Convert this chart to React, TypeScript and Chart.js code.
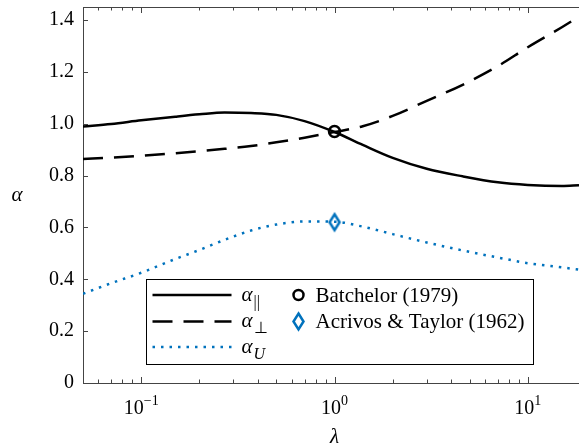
import React, { useEffect, useRef } from 'react';
import { Chart, registerables } from 'chart.js';

Chart.register(...registerables);

// ---------- data ----------
const lambdaValues = [0.05, 0.07, 0.1, 0.15, 0.2, 0.27, 0.37, 0.5, 0.7, 1, 1.4, 2, 3, 4.6, 7, 10, 15, 18.4];
const alphaParallel = [0.989, 0.999, 1.013, 1.027, 1.036, 1.043, 1.041, 1.034, 1.01, 0.968, 0.918, 0.868, 0.826, 0.797, 0.774, 0.764, 0.76, 0.763];
const alphaPerp = [0.864, 0.869, 0.876, 0.886, 0.894, 0.903, 0.914, 0.928, 0.946, 0.968, 0.99, 1.03, 1.088, 1.15, 1.222, 1.295, 1.372, 1.413];
const alphaU = [0.344, 0.385, 0.425, 0.478, 0.513, 0.552, 0.588, 0.611, 0.623, 0.622, 0.603, 0.574, 0.542, 0.511, 0.484, 0.462, 0.446, 0.437];
const batchelorX = [1];
const batchelorY = [0.97];
const acrivosX = [1];
const acrivosY = [0.62];
const xMin = 0.05;
const xMax = 18.4;
const xTickValues = [0.1, 1, 10];
const xTickBase = ['10', '10', '10'];
const xTickExp = ['\u22121', '0', '1'];
const yTickValues = [0, 0.2, 0.4, 0.6, 0.8, 1.0, 1.2, 1.4];
const yTickLabels = ['0', '0.2', '0.4', '0.6', '0.8', '1.0', '1.2', '1.4'];

// ---------- styles ----------
const AXIS_COLOR = '#444444';
const BLUE = '#0072BD';
const SERIF = '"Liberation Serif", "Times New Roman", serif';
const DASH = [20, 11];
const DOT = [2.5, 6];

function makeDiamond(): HTMLCanvasElement {
  const c = document.createElement('canvas');
  c.width = 16;
  c.height = 22;
  const g = c.getContext('2d')!;
  g.strokeStyle = BLUE;
  g.lineWidth = 2.5;
  g.lineJoin = 'miter';
  g.beginPath();
  g.moveTo(8, 3);
  g.lineTo(13, 11);
  g.lineTo(8, 19);
  g.lineTo(3, 11);
  g.closePath();
  g.stroke();
  return c;
}

const framePlugin = {
  id: 'frame',
  afterDatasetsDraw(chart: any) {
    const { ctx, chartArea: a, scales } = chart;
    const x = scales.x;
    const y = scales.y;
    ctx.save();
    ctx.strokeStyle = AXIS_COLOR;
    ctx.lineWidth = 1;
    ctx.beginPath();
    ctx.moveTo(a.left, a.top + 0.5);
    ctx.lineTo(a.right, a.top + 0.5);
    ctx.stroke();
    ctx.beginPath();
    for (let e = -2; e <= 1; e++) {
      for (let m = 1; m <= 9; m++) {
        const v = m * Math.pow(10, e);
        if (v < x.min || v > x.max) continue;
        const px = Math.round(x.getPixelForValue(v)) + 0.5;
        const len = m === 1 ? 6 : 3.5;
        ctx.moveTo(px, a.bottom);
        ctx.lineTo(px, a.bottom - len);
        ctx.moveTo(px, a.top);
        ctx.lineTo(px, a.top + len);
      }
    }
    yTickValues.forEach((v) => {
      const py = Math.round(y.getPixelForValue(v)) + 0.5;
      ctx.moveTo(a.left, py);
      ctx.lineTo(a.left + 5, py);
    });
    ctx.stroke();
    ctx.restore();
  },
  afterDraw(chart: any) {
    const { ctx, chartArea: a, scales } = chart;
    const x = scales.x;
    ctx.save();
    ctx.fillStyle = '#000';

    // x tick labels: 10 with superscript exponent
    ctx.textBaseline = 'alphabetic';
    ctx.textAlign = 'left';
    xTickValues.forEach((v, i) => {
      ctx.font = `20px ${SERIF}`;
      const wb = ctx.measureText(xTickBase[i]).width;
      ctx.font = `14px ${SERIF}`;
      const we = ctx.measureText(xTickExp[i]).width;
      const cx = x.getPixelForValue(v);
      const x0 = cx - (wb + we) / 2;
      ctx.font = `20px ${SERIF}`;
      ctx.fillText(xTickBase[i], x0, a.bottom + 31);
      ctx.font = `14px ${SERIF}`;
      ctx.fillText(xTickExp[i], x0 + wb, a.bottom + 22);
    });

    // axis titles
    ctx.textAlign = 'center';
    ctx.textBaseline = 'middle';
    ctx.font = `italic 21px ${SERIF}`;
    ctx.fillText('\u03B1', 17, (a.top + a.bottom) / 2);
    ctx.fillText('\u03BB', x.getPixelForValue(1), 437);

    // legend box
    const bx = a.left + 63;
    const by = a.top + 272;
    const bw = 387;
    const bh = 85;
    ctx.fillStyle = '#fff';
    ctx.fillRect(bx, by, bw, bh);
    ctx.strokeStyle = '#000';
    ctx.lineWidth = 1;
    ctx.strokeRect(Math.round(bx) + 0.5, Math.round(by) + 0.5, bw, bh);

    const rows = [by + 16, by + 42.5, by + 68];
    const lx0 = bx + 6.5;
    const lx1 = bx + 85.5;
    const samples: { dash: number[]; color: string }[] = [
      { dash: [], color: '#000' },
      { dash: DASH, color: '#000' },
      { dash: DOT, color: BLUE },
    ];
    samples.forEach((s, i) => {
      ctx.beginPath();
      ctx.setLineDash(s.dash);
      ctx.strokeStyle = s.color;
      ctx.lineWidth = 2.5;
      ctx.lineCap = 'butt';
      ctx.moveTo(lx0, rows[i]);
      ctx.lineTo(lx1, rows[i]);
      ctx.stroke();
    });
    ctx.setLineDash([]);

    // alpha labels with subscripts
    const subs: { t: string; italic: boolean }[] = [
      { t: '||', italic: false },
      { t: '\u22A5', italic: false },
      { t: 'U', italic: true },
    ];
    ctx.textAlign = 'left';
    ctx.textBaseline = 'alphabetic';
    ctx.fillStyle = '#000';
    subs.forEach((s, i) => {
      const base = rows[i] + 5.5;
      const ax = bx + 95.5;
      ctx.font = `italic 21px ${SERIF}`;
      ctx.fillText('\u03B1', ax, base);
      const w = ctx.measureText('\u03B1').width;
      ctx.font = `${s.italic ? 'italic ' : ''}16px ${SERIF}`;
      ctx.fillText(s.t, ax + w + 1, base + 6);
    });

    // marker entries
    const mx = bx + 152.5;
    ctx.beginPath();
    ctx.strokeStyle = '#000';
    ctx.lineWidth = 2.5;
    ctx.arc(mx, rows[0], 5, 0, Math.PI * 2);
    ctx.stroke();
    ctx.beginPath();
    ctx.strokeStyle = BLUE;
    ctx.moveTo(mx, rows[1] - 8);
    ctx.lineTo(mx + 5, rows[1]);
    ctx.lineTo(mx, rows[1] + 8);
    ctx.lineTo(mx - 5, rows[1]);
    ctx.closePath();
    ctx.stroke();

    ctx.fillStyle = '#000';
    ctx.font = `21px ${SERIF}`;
    ctx.fillText('Batchelor (1979)', bx + 169.5, rows[0] + 7);
    ctx.fillText('Acrivos & Taylor (1962)', bx + 169.5, rows[1] + 6);
    ctx.restore();
  },
};

export default function App() {
  const ref = useRef<HTMLCanvasElement | null>(null);

  useEffect(() => {
    if (!ref.current) return;
    const diamond = makeDiamond();
    const toXY = (ys: number[]) => lambdaValues.map((l, i) => ({ x: l, y: ys[i] }));
    const chart = new Chart(ref.current, {
      type: 'line',
      data: {
        datasets: [
          {
            label: 'Batchelor (1979)',
            data: batchelorX.map((v, i) => ({ x: v, y: batchelorY[i] })),
            showLine: false,
            pointStyle: 'circle',
            pointRadius: 5.5,
            pointBorderWidth: 2.5,
            pointBorderColor: '#000',
            pointBackgroundColor: 'rgba(0,0,0,0)',
            order: 0,
          },
          {
            label: 'Acrivos & Taylor (1962)',
            data: acrivosX.map((v, i) => ({ x: v, y: acrivosY[i] })),
            showLine: false,
            pointStyle: diamond as any,
            pointRadius: 8,
            order: 0,
          },
          {
            label: 'alpha_par',
            data: toXY(alphaParallel),
            borderColor: '#000',
            borderWidth: 2.5,
            pointRadius: 0,
            cubicInterpolationMode: 'monotone',
            order: 1,
          },
          {
            label: 'alpha_perp',
            data: toXY(alphaPerp),
            borderColor: '#000',
            borderWidth: 2.5,
            borderDash: DASH,
            pointRadius: 0,
            cubicInterpolationMode: 'monotone',
            order: 2,
          },
          {
            label: 'alpha_U',
            data: toXY(alphaU),
            borderColor: BLUE,
            borderWidth: 2.5,
            borderDash: DOT,
            borderCapStyle: 'butt',
            pointRadius: 0,
            cubicInterpolationMode: 'monotone',
            order: 3,
          },
        ],
      },
      options: {
        animation: false,
        responsive: false,
        maintainAspectRatio: false,
        layout: { autoPadding: false, padding: { top: 7, right: 0, left: 0, bottom: 0 } },
        plugins: { legend: { display: false }, tooltip: { enabled: false } },
        scales: {
          x: {
            type: 'logarithmic',
            min: xMin,
            max: xMax,
            grid: { display: true, drawOnChartArea: false, drawTicks: false },
            border: { display: true, color: AXIS_COLOR, width: 1 },
            afterBuildTicks: (s: any) => {
              s.ticks = xTickValues.map((v) => ({ value: v }));
            },
            afterFit: (s: any) => {
              s.height = 64;
              s.paddingLeft = 0;
              s.paddingRight = 0;
            },
            ticks: { display: false },
          },
          y: {
            type: 'linear',
            min: 0,
            max: 1.45,
            grid: { display: true, drawOnChartArea: false, drawTicks: false },
            border: { display: true, color: AXIS_COLOR, width: 1 },
            afterBuildTicks: (s: any) => {
              s.ticks = yTickValues.map((v) => ({ value: v }));
            },
            afterFit: (s: any) => {
              s.width = 83;
              s.paddingTop = 0;
              s.paddingBottom = 0;
            },
            ticks: {
              color: '#000',
              padding: 9,
              font: { family: SERIF, size: 20 },
              callback: (_v: any, i: number) => yTickLabels[i],
            },
          },
        },
      },
      plugins: [framePlugin],
    } as any);
    return () => chart.destroy();
  }, []);

  return (
    <div style={{ position: 'absolute', left: 0, top: 0, width: 579, height: 447, overflow: 'hidden', background: '#fff' }}>
      <canvas ref={ref} width={579} height={447} style={{ width: 579, height: 447, display: 'block' }} />
    </div>
  );
}
